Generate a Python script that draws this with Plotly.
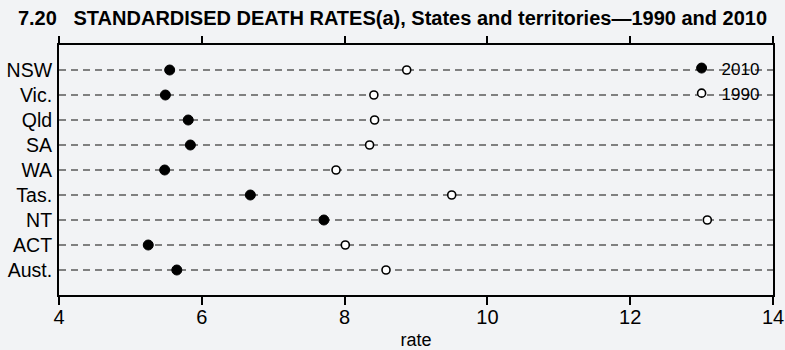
import plotly.graph_objects as go

# Standardised death rates by state / territory
states = ["NSW", "Vic.", "Qld", "SA", "WA", "Tas.", "NT", "ACT", "Aust."]
rate_2010 = [5.55, 5.49, 5.81, 5.84, 5.48, 6.68, 7.71, 5.25, 5.65]
rate_1990 = [8.87, 8.41, 8.42, 8.35, 7.88, 9.50, 13.08, 8.01, 8.58]
x_ticks = [4, 6, 8, 10, 12, 14]

bg = "#f2f3f5"

fig = go.Figure()

fig.add_trace(go.Scatter(
    x=rate_2010, y=states, mode="markers", name="2010",
    marker=dict(color="black", size=10, line=dict(width=1, color="black")),
))
# 1990 on the top x axis (same range) so the top ticks get drawn
fig.add_trace(go.Scatter(
    x=rate_1990, y=states, mode="markers", name="1990", xaxis="x2",
    marker=dict(color="white", size=8, line=dict(width=1.6, color="black")),
))

fig.update_layout(
    width=785, height=350,
    paper_bgcolor=bg, plot_bgcolor=bg,
    margin=dict(l=59, r=12, t=45, b=55, autoexpand=False),
    font=dict(family="Liberation Sans, Arial, sans-serif", color="black"),
    title=dict(
        text="<b>7.20   STANDARDISED DEATH RATES(a), States and territories\u20141990 and 2010</b>",
        font=dict(family="Liberation Sans, Arial", size=20, color="black"),
        x=0.5, xanchor="center", y=0.948, yanchor="middle",
    ),
    showlegend=True,
    legend=dict(
        x=0.872, y=0.978, xanchor="left", yanchor="top",
        bgcolor="rgba(0,0,0,0)", font=dict(size=17),
        itemwidth=30, tracegroupgap=0,
    ),
    xaxis=dict(
        range=[4, 14], tickvals=x_ticks, ticks="outside", ticklen=8,
        tickcolor="black", tickwidth=1.5, showline=True, linecolor="black",
        linewidth=2, mirror=True, showgrid=False, zeroline=False,
        tickfont=dict(size=20), automargin=False, ticklabelstandoff=-5,
        title=dict(text="rate", font=dict(size=18), standoff=6),
    ),
    xaxis2=dict(
        overlaying="x", side="top", range=[4, 14],
        tickvals=x_ticks, ticks="outside", ticklen=8, tickwidth=1.5,
        tickcolor="black", showticklabels=False, showline=False,
        showgrid=False, zeroline=False, automargin=False,
    ),
    yaxis=dict(
        type="category", categoryorder="array", categoryarray=states,
        range=[len(states), -1], automargin=False,
        showline=True, linecolor="black", linewidth=2, mirror=True,
        ticks="", showgrid=True, gridcolor="#808080", gridwidth=1.6,
        griddash="7px,5px", tickfont=dict(size=19.5), ticklabelstandoff=1,
    ),
)

fig.write_html(
    "out.html",
    config={"displayModeBar": False},
    post_script="document.body.style.margin='0';document.body.style.background='%s';" % bg,
)
